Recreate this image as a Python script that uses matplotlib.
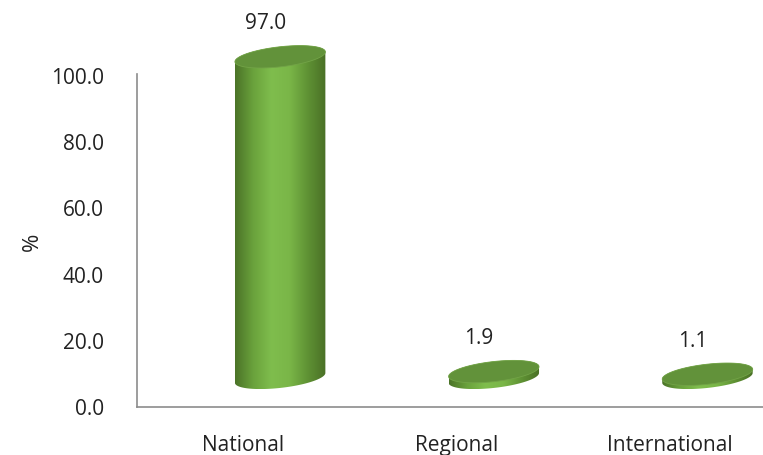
#!/usr/bin/env python3
import numpy as np
import matplotlib
matplotlib.use("Agg")
import matplotlib.pyplot as plt
from matplotlib.patches import Polygon
from matplotlib.colors import LinearSegmentedColormap

categories = ["National", "Regional", "International"]
values = [97.0, 1.9, 1.1]
y_ticks = [0, 20, 40, 60, 80, 100]

W, H = 763, 455
BASE = 8.8           # cylinders stand on the 3D floor, a bit above 0
XLIM = (-0.67, 2.26)
LABEL_SHIFT = 0.175  # category labels sit left of the cylinders (perspective)

body_cmap = LinearSegmentedColormap.from_list(
    "body", ["#4b7328", "#6aa23c", "#7fbd4d", "#7ab648", "#5f9234", "#4a7026"])
top_color = "#62923a"


def ellipse_pts(cx, cy, a, b, theta, sx, sy, t):
    x = a * np.cos(t) * np.cos(theta) - b * np.sin(t) * np.sin(theta)
    y = a * np.cos(t) * np.sin(theta) + b * np.sin(t) * np.cos(theta)
    return cx + x / sx, cy + y / sy


def cylinder(ax, cx, bottom, height, sx, sy, a=45.5, b=10, theta=np.radians(6.5)):
    t1 = np.arctan2(-b * np.sin(theta), a * np.cos(theta))
    arc1 = np.linspace(t1, t1 + np.pi, 100)
    arc2 = np.linspace(t1 + np.pi, t1 + 2 * np.pi, 100)
    x1, y1 = ellipse_pts(cx, bottom, a, b, theta, sx, sy, arc1)
    x2, y2 = ellipse_pts(cx, bottom, a, b, theta, sx, sy, arc2)
    if y1.mean() < y2.mean():
        lo_x, lo_y, hi_x, hi_y = x1, y1, x2, y2
    else:
        lo_x, lo_y, hi_x, hi_y = x2, y2, x1, y1
    top = bottom + height
    up_x, up_y = ellipse_pts(cx, top, a, b, theta, sx, sy,
                             np.linspace(0, 2 * np.pi, 200))
    hx, hy = hi_x, hi_y + height
    if lo_x[0] > lo_x[-1]:
        lo_x, lo_y = lo_x[::-1], lo_y[::-1]
    if hx[0] < hx[-1]:
        hx, hy = hx[::-1], hy[::-1]
    px = np.concatenate([lo_x, hx])
    py = np.concatenate([lo_y, hy])
    body = Polygon(np.column_stack([px, py]), closed=True,
                   facecolor="none", edgecolor="none")
    ax.add_patch(body)
    grad = np.linspace(0, 1, 256)[None, :]
    im = ax.imshow(grad, cmap=body_cmap, aspect="auto",
                   extent=(px.min(), px.max(), py.min(), py.max()),
                   zorder=3, interpolation="bicubic")
    im.set_clip_path(body)
    cap = Polygon(np.column_stack([up_x, up_y]), closed=True,
                  facecolor=top_color, edgecolor="#72a347", lw=0.6, zorder=4)
    ax.add_patch(cap)
    return top


fig = plt.figure(figsize=(W / 100, H / 100), dpi=100)
ax_l, ax_b = 137 / W, (H - 407) / H
ax_w, ax_h = (W - 137) / W, 407 / H
ax = fig.add_axes([ax_l, ax_b, ax_w, ax_h])
px_per_unit = (407 - 76) / 100.0
ax.set_xlim(*XLIM)
ax.set_ylim(0, 407 / px_per_unit)

sx = ax_w * W / (XLIM[1] - XLIM[0])
sy = px_per_unit

for i, v in enumerate(values):
    top = cylinder(ax, i, BASE, v, sx, sy)
    ax.text(i - 15 / sx, top + 33 / sy, f"{v:.1f}",
            ha="center", va="center", fontsize=15, family="Open Sans",
            color="#222222")

for s in ["top", "right"]:
    ax.spines[s].set_visible(False)
for s in ["left", "bottom"]:
    ax.spines[s].set_color("#8c8c8c")
    ax.spines[s].set_linewidth(1.2)
ax.spines["left"].set_bounds(0, 100 + 2 / px_per_unit)

ax.set_yticks(y_ticks)
ax.set_yticklabels([f"{t:.1f}" for t in y_ticks], family="Open Sans",
                   fontsize=15, color="#222222")
ax.set_xticks(np.arange(len(categories)) - LABEL_SHIFT)
ax.set_xticklabels(categories, family="Open Sans", fontsize=15,
                   color="#222222")
ax.tick_params(axis="both", length=0)
ax.tick_params(axis="y", pad=24)
ax.tick_params(axis="x", pad=20)
ax.set_ylabel("%", family="Open Sans", fontsize=16, color="#222222")
ax.yaxis.set_label_coords(-0.15, 0.405)

fig.savefig("out.png", dpi=100)
